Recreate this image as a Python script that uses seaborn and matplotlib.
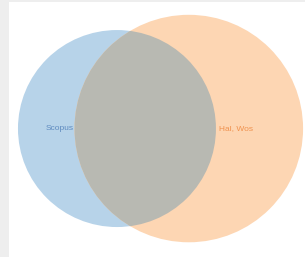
import numpy as np
import matplotlib
matplotlib.use("Agg")
import matplotlib.pyplot as plt
from matplotlib.patches import Circle
import seaborn as sns

# set names and subset sizes (only A, both, only B) in relative units
set_labels = ["Scopus", "Hal, Wos"]
subset_sizes = [10, 20, 20]

fill_colors = ["#b7d3e9", "#fdd6b3"]
overlap_color = "#b8b9b2"
text_colors = ["#5f8bc0", "#f0924f"]


def lens_area(r1, r2, d):
    """Area of intersection of two circles."""
    if d >= r1 + r2:
        return 0.0
    if d <= abs(r1 - r2):
        return np.pi * min(r1, r2) ** 2
    a1 = r1 ** 2 * np.arccos((d ** 2 + r1 ** 2 - r2 ** 2) / (2 * d * r1))
    a2 = r2 ** 2 * np.arccos((d ** 2 + r2 ** 2 - r1 ** 2) / (2 * d * r2))
    k = 0.5 * np.sqrt((-d + r1 + r2) * (d + r1 - r2) * (d - r1 + r2) * (d + r1 + r2))
    return a1 + a2 - k


def solve_distance(r1, r2, target):
    lo, hi = abs(r1 - r2), r1 + r2
    for _ in range(100):
        mid = (lo + hi) / 2
        if lens_area(r1, r2, mid) > target:
            lo = mid
        else:
            hi = mid
    return (lo + hi) / 2


only_a, both, only_b = subset_sizes
r1 = np.sqrt((only_a + both) / np.pi)
r2 = np.sqrt((only_b + both) / np.pi)
d = solve_distance(r1, r2, both)

sns.set_style("white")
plt.rcParams["font.family"] = ["Liberation Sans", "DejaVu Sans"]

fig = plt.figure(figsize=(3.05, 2.57), dpi=100, facecolor="#eeeeee")
ax = fig.add_axes([9 / 305, 0, 296 / 305, 255 / 257])
ax.set_facecolor("white")

c1 = Circle((0, 0), r1, facecolor=fill_colors[0], edgecolor="none")
c2 = Circle((d, 0), r2, facecolor=fill_colors[1], edgecolor="none")
ax.add_patch(c1)
ax.add_patch(c2)
lens = Circle((d, 0), r2, facecolor=overlap_color, edgecolor="none")
ax.add_patch(lens)
lens.set_clip_path(c1)

ax.text(d - r2 - 0.03, 0, set_labels[0], ha="right", va="center",
        fontsize=6, color=text_colors[0])
ax.text(r1 + 0.08, 0, set_labels[1], ha="left", va="center",
        fontsize=6, color=text_colors[1])

ax.set_xlim(-r1 - 0.28, d + r2 + 0.06)
ax.set_ylim(-4.03, 3.97)
ax.set_aspect("equal", adjustable="datalim")
ax.set_xticks([])
ax.set_yticks([])
sns.despine(ax=ax, left=True, bottom=True)

fig.savefig("out.png", dpi=100, facecolor=fig.get_facecolor())
